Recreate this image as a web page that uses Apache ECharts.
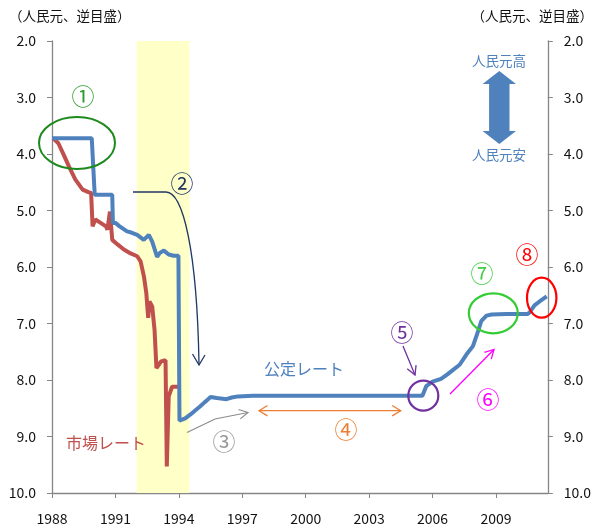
<!DOCTYPE html>
<html><head><meta charset="utf-8">
<script src="https://cdn.jsdelivr.net/npm/echarts@6/dist/echarts.min.js"></script>
<style>html,body{margin:0;padding:0;background:#fff}#c{width:594px;height:531px}</style>
</head><body><div id="c"></div>
<script>
// ---- data (decimal year, CNY per USD) ----
const baseYear = 1988;
const xTickStep = 3;
const xMaxYear = 2011.45;
const yTicks = [2, 10, 1];

const officialYears = [1988.0,1989.88,1990.02,1990.85,1990.88,1991.0,1991.2,1991.55,1991.75,1992.03,1992.34,1992.58,1992.74,1992.97,1993.1,1993.29,1993.52,1993.75,1993.98,1994.03,1994.3,1994.55,1994.8,1995.0,1995.2,1995.3,1995.5,1995.8,1996.25,1996.5,1996.8,1997.5,2005.52,2005.7,2006.0,2006.4,2006.7,2006.97,2007.28,2007.6,2007.91,2008.15,2008.3,2008.55,2008.8,2009.5,2010.5,2010.6,2010.82,2011.06,2011.4];
const officialRate  = [3.72,3.72,4.72,4.72,5.22,5.22,5.28,5.37,5.39,5.43,5.52,5.43,5.55,5.82,5.75,5.71,5.78,5.80,5.80,8.72,8.68,8.61,8.53,8.47,8.40,8.37,8.30,8.32,8.34,8.31,8.29,8.28,8.28,8.11,8.03,7.98,7.90,7.82,7.73,7.55,7.40,7.14,6.96,6.86,6.84,6.83,6.83,6.80,6.68,6.61,6.52];

const marketYears = [1988.05,1988.3,1988.55,1988.8,1989.1,1989.45,1989.75,1989.85,1989.92,1990.05,1990.3,1990.55,1990.62,1990.74,1990.85,1991.1,1991.4,1991.72,1992.03,1992.19,1992.35,1992.46,1992.55,1992.61,1992.74,1992.85,1992.94,1993.05,1993.16,1993.37,1993.43,1993.52,1993.68,1994.08];
const marketRate  = [3.72,3.81,4.01,4.22,4.45,4.63,4.68,4.69,5.28,5.16,5.22,5.28,5.34,5.02,5.52,5.60,5.69,5.76,5.81,5.90,6.17,6.46,6.90,6.61,6.70,7.11,7.79,7.73,7.67,7.65,9.53,8.29,8.12,8.12];

const shadeYears = [1992.0, 1994.5];

const FONT = '"Noto Sans CJK JP","Noto Sans",sans-serif';
const toPairs = (xs, ys) => xs.map((x, i) => [x - baseYear, ys[i]]);

const yAxisCommon = {
  type: 'value', inverse: true, min: yTicks[0], max: yTicks[1], interval: yTicks[2],
  splitLine: { show: false },
  axisLine: { show: true, lineStyle: { color: '#868686', width: 1.3 } },
  axisTick: { show: true, length: 5, lineStyle: { color: '#868686' } },
  axisLabel: { formatter: v => v.toFixed(1), color: '#111', fontSize: 14, fontFamily: FONT, margin: 16 }
};

const chart = echarts.init(document.getElementById('c'));

function arrowHead(x1, y1, x2, y2, len, ang) {
  const a = Math.atan2(y2 - y1, x2 - x1);
  return [[x2 - len * Math.cos(a - ang), y2 - len * Math.sin(a - ang)], [x2, y2],
          [x2 - len * Math.cos(a + ang), y2 - len * Math.sin(a + ang)]];
}
function arrow(x1, y1, x2, y2, color, w, len) {
  return [
    { type: 'line', shape: { x1, y1, x2, y2 }, style: { stroke: color, lineWidth: w }, z: 50 },
    { type: 'polyline', shape: { points: arrowHead(x1, y1, x2, y2, len || 10, 0.5) }, style: { stroke: color, lineWidth: w, fill: null }, z: 50 }
  ];
}
function txt(x, y, s, color, size) {
  return { type: 'text', x, y, z: 60, style: { text: s, fill: color, font: size + 'px ' + FONT, textAlign: 'center', textVerticalAlign: 'middle' } };
}
function ell(cx, cy, rx, ry, color, w) {
  return { type: 'ellipse', shape: { cx, cy, rx, ry }, style: { stroke: color, lineWidth: w, fill: null }, z: 55 };
}

const navy = '#1F3864';
const CS = 23;
const graphics = [
  { type: 'text', x: 9, y: 16, style: { text: '（人民元、逆目盛）', fill: '#111', font: '13.5px ' + FONT, textVerticalAlign: 'middle' } },
  { type: 'text', x: 593, y: 16, style: { text: '（人民元、逆目盛）', fill: '#111', font: '13.5px ' + FONT, textAlign: 'right', textVerticalAlign: 'middle' } },
  // ① and ellipse
  txt(83, 96, '①', '#2E9B2E', CS),
  ell(77, 143, 38, 26, '#1E8A1E', 2),
  // ② curved arrow
  txt(182, 183, '②', navy, CS),
  { type: 'line', shape: { x1: 133, y1: 192, x2: 166, y2: 192 }, style: { stroke: navy, lineWidth: 1.3 }, z: 50 },
  { type: 'bezierCurve', shape: { x1: 166, y1: 192, cpx1: 183, cpy1: 192, cpx2: 197, cpy2: 250, x2: 199, y2: 364 }, style: { stroke: navy, lineWidth: 1.3, fill: null }, z: 50 },
  { type: 'polyline', shape: { points: [[192.5, 354], [199, 365], [205, 355]] }, style: { stroke: navy, lineWidth: 1.3, fill: null }, z: 50 },
  // ③
  txt(224, 441, '③', '#999999', CS),
  { type: 'polyline', shape: { points: [[187, 432.5], [215, 419], [248, 412.5]] }, style: { stroke: '#8C8C8C', lineWidth: 1.2, fill: null }, z: 50 },
  { type: 'polyline', shape: { points: arrowHead(215, 419, 248, 412.5, 10, 0.5) }, style: { stroke: '#8C8C8C', lineWidth: 1.2, fill: null }, z: 50 },
  // ④ double arrow
  txt(346, 429, '④', '#ED7D31', CS),
  { type: 'line', shape: { x1: 259, y1: 410.7, x2: 400.7, y2: 410.7 }, style: { stroke: '#ED7D31', lineWidth: 1.3 }, z: 50 },
  { type: 'polyline', shape: { points: arrowHead(400.7, 410.7, 259, 410.7, 10, 0.55) }, style: { stroke: '#ED7D31', lineWidth: 1.3, fill: null }, z: 50 },
  { type: 'polyline', shape: { points: arrowHead(259, 410.7, 400.7, 410.7, 10, 0.55) }, style: { stroke: '#ED7D31', lineWidth: 1.3, fill: null }, z: 50 },
  // ⑤
  txt(402, 332, '⑤', '#7030A0', CS),
  ...arrow(403, 346, 415, 375, '#7030A0', 1.3, 10),
  { type: 'circle', shape: { cx: 423.3, cy: 395.7, r: 15 }, style: { stroke: '#7030A0', lineWidth: 2.2, fill: null }, z: 55 },
  // ⑥
  txt(488, 399, '⑥', '#FF00FF', CS),
  ...arrow(450, 394, 494, 349.5, '#FF00FF', 1.3, 10),
  // ⑦
  txt(482, 273, '⑦', '#44CC44', CS),
  ell(493.3, 313.3, 24.5, 20, '#33CC33', 2.2),
  // ⑧
  txt(527, 254, '⑧', '#FF0000', CS),
  ell(541.7, 297.7, 14.7, 20, '#FF0000', 2.2),
  // labels
  txt(304, 369, '公定レート', '#4F81BD', 16),
  txt(106, 443, '市場レート', '#C0504D', 16),
  txt(499, 61, '人民元高', '#4F81BD', 13.5),
  txt(499, 155, '人民元安', '#4F81BD', 13.5),
  { type: 'polygon', z: 50, shape: { points: [[499.3, 71], [516, 84], [509.5, 84], [509.5, 131], [516, 131], [499.3, 144], [482.6, 131], [489.1, 131], [489.1, 84], [482.6, 84]] }, style: { fill: '#4F81BD' } }
];

chart.setOption({
  animation: false,
  backgroundColor: '#fff',
  grid: { left: 52, right: 46, top: 41, bottom: 38, containLabel: false },
  xAxis: {
    type: 'value', min: 0, max: xMaxYear - baseYear, interval: xTickStep,
    splitLine: { show: false },
    axisLine: { show: true, onZero: false, lineStyle: { color: '#868686', width: 1.3 } },
    axisTick: { show: true, length: 5, lineStyle: { color: '#868686' } },
    axisLabel: { formatter: v => String(baseYear + v), color: '#111', fontSize: 14, fontFamily: FONT, margin: 19, showMaxLabel: false }
  },
  yAxis: [
    Object.assign({}, yAxisCommon, { position: 'left' }),
    Object.assign({}, yAxisCommon, { position: 'right' })
  ],
  series: [
    {
      type: 'line', name: '市場レート', data: toPairs(marketYears, marketRate), showSymbol: false, symbol: 'none',
      lineStyle: { color: '#C0504D', width: 4 }, z: 3,
      markArea: { silent: true, itemStyle: { color: '#FFFFC8' }, data: [[{ xAxis: shadeYears[0] - baseYear }, { xAxis: shadeYears[1] - baseYear }]], z: 1 }
    },
    {
      type: 'line', name: '公定レート', data: toPairs(officialYears, officialRate), showSymbol: false, symbol: 'none',
      lineStyle: { color: '#4F81BD', width: 4 }, z: 4
    }
  ],
  graphic: graphics
});
</script></body></html>
